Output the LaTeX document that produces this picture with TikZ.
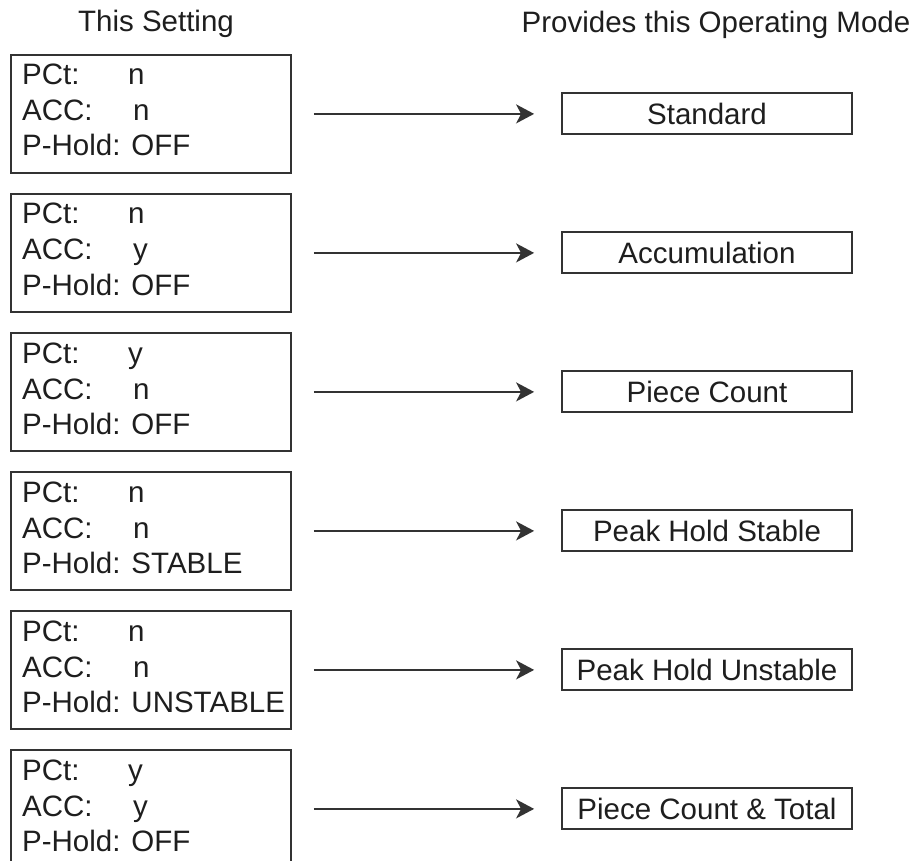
\documentclass[tikz,border=0pt]{standalone}
\usepackage{fontspec}
\setmainfont{Liberation Sans}
\usetikzlibrary{arrows.meta}
\definecolor{ink}{HTML}{1E1E1E}
\definecolor{rule}{HTML}{333333}
\begin{document}
\begin{tikzpicture}[x=1pt,y=-1pt,
  txt/.style={inner sep=0pt,anchor=base west,text=ink,font=\fontsize{29.5}{35}\selectfont},
  hdr/.style={inner sep=0pt,anchor=base,text=ink,font=\fontsize{29.5}{35}\selectfont},
  setbox/.style={draw=rule,line width=1.8pt,minimum width=280pt,minimum height=118pt,inner sep=0pt,anchor=north west},
  modebox/.style={draw=rule,line width=1.8pt,minimum width=290pt,minimum height=41pt,inner sep=0pt,text=ink,font=\fontsize{29.5}{35}\selectfont},
  arr/.style={draw=rule,line width=1.8pt,-{Stealth[length=18pt,width=19pt,inset=5pt]},shorten <=22pt,shorten >=27pt}]
\clip (0,0) rectangle (919,861);
\useasboundingbox (0,0) rectangle (919,861);
\fill[white] (0,0) rectangle (919,861);
\node[hdr] (h1) at (156,32) {This Setting};
\node[hdr] (h2) at (716,33) {Provides this Operating Mode};
\foreach \k/\p/\a/\h/\m in {0/n/n/OFF/Standard,1/n/y/OFF/Accumulation,2/y/n/OFF/Piece Count,3/n/n/STABLE/Peak Hold Stable,4/n/n/UNSTABLE/Peak Hold Unstable,5/y/y/OFF/Piece Count \& Total}{
  \pgfmathsetmacro{\T}{54+139*\k}
  \node[setbox] (L\k) at (10,\T) {};
  \node[txt] (p\k) at (22,\T+31) {PCt:};
  \node[txt] (pv\k) at (128,\T+31) {\p};
  \node[txt] (a\k) at (22,\T+67) {ACC:};
  \node[txt] (av\k) at (133,\T+67) {\a};
  \node[txt] (ph\k) at (22,\T+102) {P-Hold: \h};
  \node[modebox] (R\k) at (707,\T+59.5) {\m};
  \draw[arr] (L\k.east) -- (L\k.east -| R\k.west);
}
\end{tikzpicture}
\end{document}
